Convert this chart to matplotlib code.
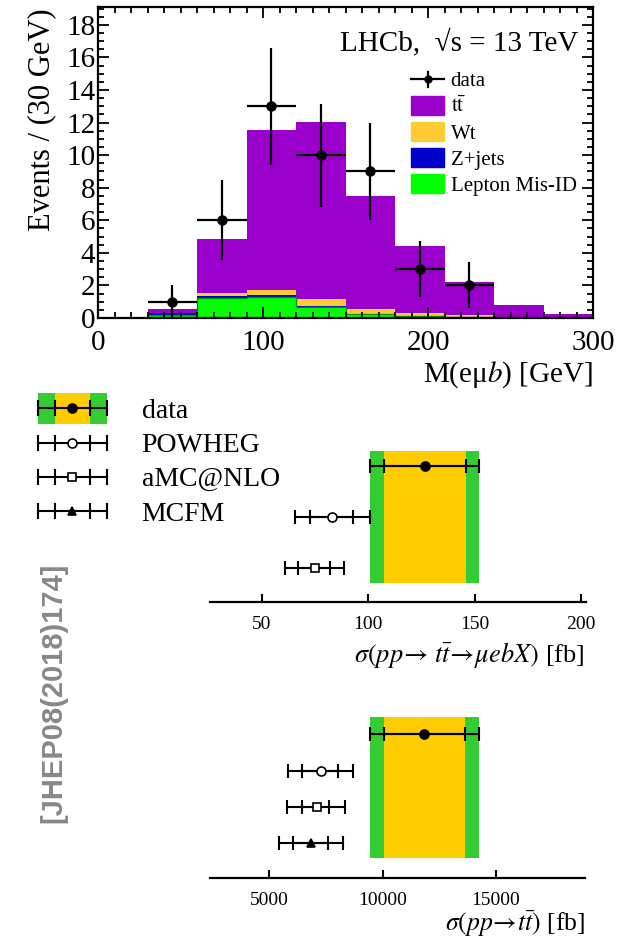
import numpy as np
import matplotlib
matplotlib.use("Agg")
import matplotlib.pyplot as plt
from matplotlib.legend_handler import HandlerBase
from matplotlib.lines import Line2D
from matplotlib.patches import Rectangle, Patch
from matplotlib.ticker import MultipleLocator

plt.rcParams['font.family'] = ['Liberation Serif', 'DejaVu Serif']
plt.rcParams['mathtext.fontset'] = 'stix'

# ---------------- data: top panel ----------------
bin_edges = [0, 30, 60, 90, 120, 150, 180, 210, 240, 270, 300]
misid = [0.03, 0.18, 1.21, 1.31, 0.70, 0.25, 0.10, 0.05, 0.02, 0.01]
zjets = [0.00, 0.11, 0.14, 0.08, 0.04, 0.02, 0.01, 0.01, 0.00, 0.00]
wt    = [0.00, 0.04, 0.17, 0.33, 0.43, 0.26, 0.18, 0.10, 0.05, 0.02]
total = [0.03, 0.53, 4.83, 11.55, 12.05, 7.50, 4.40, 2.20, 0.80, 0.25]

data_x   = [45, 75, 105, 135, 165, 195, 225]
data_y   = [1, 6, 13, 10, 9, 3, 2]
data_err = [1.0, 2.45, 3.6, 3.16, 3.0, 1.73, 1.41]

# ---------------- data: cross-section panels ----------------
xs1_names  = ['data', 'POWHEG', 'aMC@NLO']
xs1_val    = [126.6, 83.0, 75.0]
xs1_statlo = [107.3, 72.9, 66.9]
xs1_stathi = [145.9, 93.0, 82.1]
xs1_totlo  = [100.9, 65.6, 60.9]
xs1_tothi  = [152.1, 101.0, 88.8]
xs1_ticks  = [50, 100, 150, 200]

xs2_names  = ['data', 'POWHEG', 'aMC@NLO', 'MCFM']
xs2_val    = [11840, 7290, 7100, 6850]
xs2_statlo = [10066, 6441, 6436, 6070]
xs2_stathi = [13648, 8053, 7656, 7586]
xs2_totlo  = [9449, 5824, 5793, 5454]
xs2_tothi  = [14251, 8714, 8335, 8247]
xs2_ticks  = [5000, 10000, 15000]

legend_names = ['data', 'POWHEG', 'aMC@NLO', 'MCFM']

PURPLE = '#9900cc'
ORANGE = '#ffcc33'
BLUE = '#0000cc'
LGREEN = '#00ff00'
BGREEN = '#33cc33'
BYELLOW = '#ffcc00'

W, H = 636, 940
fig = plt.figure(figsize=(W / 100, H / 100), dpi=100)

def fx(px):
    return px / W

def fy(py):
    return 1 - py / H

# ---------------- top panel ----------------
ax = fig.add_axes([fx(98), fy(318), fx(593) - fx(98), fy(7) - fy(318)])
edges = np.array(bin_edges, dtype=float)
widths = np.diff(edges)
b0 = np.zeros(len(widths))
m = np.array(misid); z = np.array(zjets); w_ = np.array(wt); t = np.array(total)
ax.bar(edges[:-1], m, width=widths, bottom=b0, align='edge', color=LGREEN, lw=0)
ax.bar(edges[:-1], z, width=widths, bottom=m, align='edge', color=BLUE, lw=0)
ax.bar(edges[:-1], w_, width=widths, bottom=m + z, align='edge', color=ORANGE, lw=0)
ax.bar(edges[:-1], t - (m + z + w_), width=widths, bottom=m + z + w_, align='edge',
       color=PURPLE, lw=0)
ax.stairs(m, edges, color='#009900', lw=1.0, baseline=0)
ax.errorbar(data_x, data_y, xerr=15, yerr=data_err, fmt='o', color='k', ms=6.5,
            elinewidth=1.6, capsize=0, zorder=5)
ax.set_xlim(0, 300)
ax.set_ylim(0, 19.1)
ax.xaxis.set_major_locator(MultipleLocator(100))
ax.xaxis.set_minor_locator(MultipleLocator(10))
ax.yaxis.set_major_locator(MultipleLocator(2))
ax.yaxis.set_minor_locator(MultipleLocator(0.5))
ax.tick_params(which='both', direction='in', top=True, right=True, labelsize=21, width=1.3)
ax.tick_params(which='major', length=8)
ax.tick_params(which='minor', length=4.5)
ax.tick_params(axis='x', pad=9)
ax.tick_params(axis='y', pad=2)
for s in ax.spines.values():
    s.set_linewidth(1.6)

fig.text(fx(42), fy(8), 'Events / (30 GeV)', rotation=90, ha='center', va='top', fontsize=22)
fig.text(fx(593), fy(375), 'M(eμ$b$) [GeV]', ha='right', va='center', fontsize=21)
ax.text(0.97, 0.885, 'LHCb,  √s = 13 TeV', transform=ax.transAxes,
        ha='right', va='center', fontsize=21)


class DataHandler(HandlerBase):
    def create_artists(self, legend, orig_handle, xdescent, ydescent, width, height,
                       fontsize, trans):
        x0, y0 = -xdescent, -ydescent
        yc = y0 + height / 2
        a = [Line2D([x0, x0 + width], [yc, yc], color='k', lw=1.6, transform=trans),
             Line2D([x0 + width / 2] * 2, [yc - 5.5, yc + 5.5], color='k', lw=1.6, transform=trans),
             Line2D([x0 + width / 2], [yc], marker='o', ms=5, color='k', transform=trans)]
        return a


class ModelHandler(HandlerBase):
    def __init__(self, marker, mfc, ms, band=False):
        super().__init__()
        self.marker, self.mfc, self.ms, self.band = marker, mfc, ms, band

    def create_artists(self, legend, orig_handle, xdescent, ydescent, width, height,
                       fontsize, trans):
        x0, y0 = -xdescent, -ydescent
        yc = y0 + height / 2
        arts = []
        if self.band:
            arts.append(Rectangle((x0, yc - 11), width, 22, fc=BGREEN, ec='none', transform=trans))
            arts.append(Rectangle((x0 + 0.25 * width, yc - 11), 0.5 * width, 22, fc=BYELLOW,
                                  ec='none', transform=trans))
        arts.append(Line2D([x0, x0 + width], [yc, yc], color='k', lw=1.5, transform=trans))
        for f in (0, 0.25, 0.75, 1.0):
            arts.append(Line2D([x0 + f * width] * 2, [yc - 5, yc + 5], color='k', lw=1.5,
                               transform=trans))
        arts.append(Line2D([x0 + width / 2], [yc], marker=self.marker, ms=self.ms,
                           mfc=self.mfc, mec='k', mew=1.2, color='k', transform=trans))
        return arts


dh = object()
handles = [dh, Patch(color=PURPLE), Patch(color=ORANGE), Patch(color=BLUE), Patch(color=LGREEN)]
labels = ['data', r'$\mathrm{t}\bar{\mathrm{t}}$', 'Wt', 'Z+jets', 'Lepton Mis-ID']
leg = fig.legend(handles, labels, handler_map={dh: DataHandler()}, loc='upper left',
                 bbox_to_anchor=(fx(411), fy(70)), frameon=False, fontsize=15,
                 handlelength=1.6, handleheight=1.0, handletextpad=0.3, labelspacing=0.22,
                 borderpad=0, borderaxespad=0)


# ---------------- cross-section panels ----------------
def xs_panel(rect, ylim, band_y, vals, slo, shi, tlo, thi, xlim, ticks, markers):
    a = fig.add_axes(rect)
    rows = np.arange(len(vals))
    a.fill_betweenx(band_y, tlo[0], thi[0], color=BGREEN, lw=0)
    a.fill_betweenx(band_y, slo[0], shi[0], color=BYELLOW, lw=0)
    for i in rows:
        v = vals[i]
        a.errorbar(v, i, xerr=[[v - tlo[i]], [thi[i] - v]], fmt='none', ecolor='k',
                   elinewidth=1.5, capsize=5, capthick=1.5)
        a.errorbar(v, i, xerr=[[v - slo[i]], [shi[i] - v]], fmt='none', ecolor='k',
                   elinewidth=1.5, capsize=5, capthick=1.5)
        mk, mfc, ms = markers[i]
        a.plot(v, i, marker=mk, mfc=mfc, mec='k', mew=1.2, ms=ms, color='k', zorder=5)
    a.set_xlim(*xlim)
    a.set_ylim(*ylim)
    a.set_xticks(ticks)
    a.set_yticks([])
    for s in ('left', 'right', 'top'):
        a.spines[s].set_visible(False)
    a.spines['bottom'].set_linewidth(1.6)
    a.tick_params(axis='x', direction='in', length=6, width=1.5, labelsize=14, pad=10)
    a.patch.set_alpha(0)
    return a

mk_list = [('o', 'k', 6.5), ('o', 'w', 6.5), ('s', 'w', 6), ('^', 'k', 6)]

ax2 = xs_panel([fx(210), fy(601.7), fx(585.7) - fx(210), fy(440) - fy(601.7)],
               (2.66, -0.51), [-0.30, 2.29], xs1_val, xs1_statlo, xs1_stathi, xs1_totlo,
               xs1_tothi, (25.7, 202.2), xs1_ticks, mk_list[:3])
fig.text(fx(585), fy(655), r'$\sigma(pp\!\rightarrow\, t\bar{t}\!\rightarrow\!\mu ebX)$ [fb]',
         ha='right', va='center', fontsize=19)

ax3 = xs_panel([fx(210), fy(878), fx(585) - fx(210), fy(700) - fy(878)],
               (3.97, -0.948), [-0.47, 3.43], xs2_val, xs2_statlo, xs2_stathi, xs2_totlo,
               xs2_tothi, (2400, 18920), xs2_ticks, mk_list)
fig.text(fx(585), fy(924), r'$\sigma(pp\!\rightarrow\! t\bar{t})$ [fb]',
         ha='right', va='center', fontsize=18.5)

# bottom legend
lh = [object() for _ in legend_names]
hmap = {lh[0]: ModelHandler('o', 'k', 6.5, band=True),
        lh[1]: ModelHandler('o', 'w', 6.5),
        lh[2]: ModelHandler('s', 'w', 6),
        lh[3]: ModelHandler('^', 'k', 6)}
fig.legend(lh, legend_names, handler_map=hmap, loc='upper left',
           bbox_to_anchor=(fx(38), fy(396)), frameon=False, fontsize=20,
           handlelength=2.48, handleheight=1.0, handletextpad=1.25, labelspacing=0.225,
           borderpad=0, borderaxespad=0)

fig.text(fx(53), fy(693), '[JHEP08(2018)174]', rotation=90, ha='center', va='center',
         color='#888888', fontsize=21, fontweight='bold', family='Liberation Sans')

fig.savefig('out.png', dpi=100)
